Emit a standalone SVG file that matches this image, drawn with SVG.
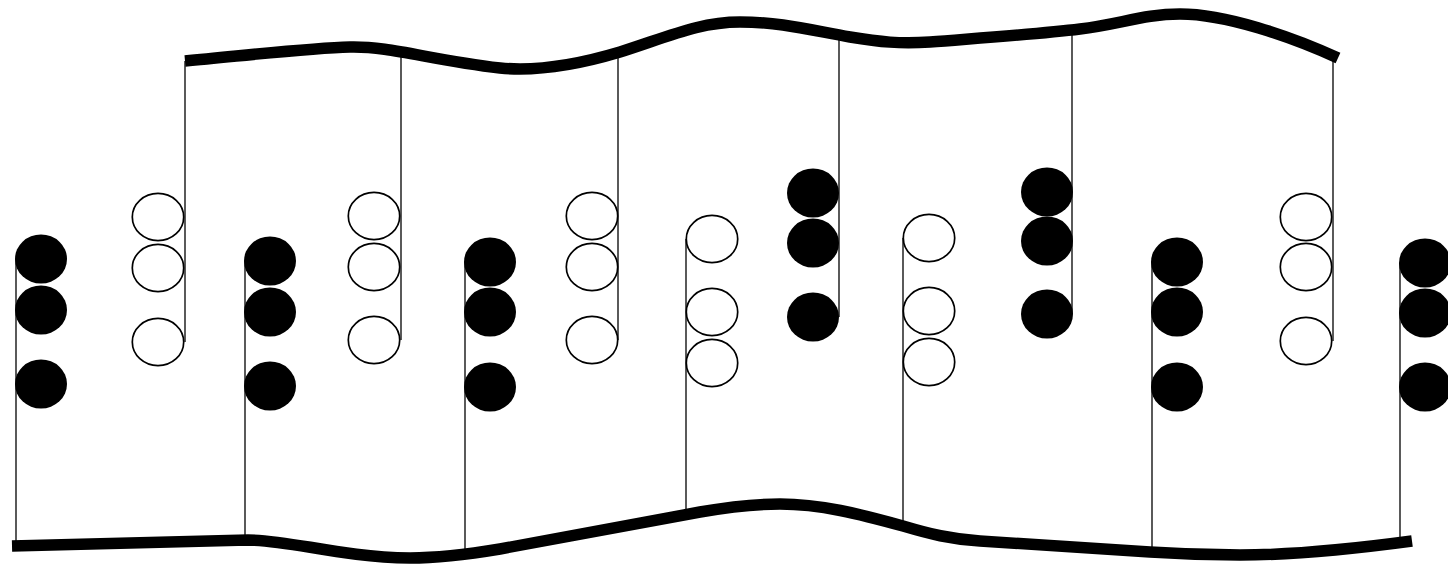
<svg xmlns="http://www.w3.org/2000/svg" width="1448" height="567" viewBox="0 0 1448 567">
<style>
.strand{fill:none;stroke:#000;stroke-width:11.5}
.link{stroke:#000;stroke-width:1.3;fill:none}
.b{fill:#000}
.o{fill:#fff;stroke:#000;stroke-width:1.7}
</style>
<defs>
<ellipse id="bk" class="b" cx="0" cy="0" rx="26" ry="24.5"/>
<ellipse id="op" class="o" cx="0" cy="0" rx="25.7" ry="23.6"/>
</defs>
<rect width="1448" height="567" fill="#fff"/>
<g id="strands">
<path id="top-strand" class="strand" d="M185,61 C250,55 310,48 350,47 C390,46 430,60 500,68 C540,72 580,64 620,52 C670,36 700,22 740,22 C780,22 810,30 850,37 C880,42 900,44 930,42 C980,38 1040,34 1080,29 C1120,24 1145,14 1180,14 C1225,14 1290,36 1338,58"/>
<path id="bottom-strand" class="strand" d="M12,546 L248,540 C290,540 340,557 410,558 C440,558 470,554 500,549 L700,512 C740,505 760,504 780,504 C820,504 860,514 903,526 C930,534 950,539 980,541 L1150,552 C1180,554 1210,555 1240,555 C1300,555 1360,548 1412,541"/>
</g>
<g id="connectors">
<line class="link" x1="16" y1="259" x2="16" y2="546"/>
<line class="link" x1="185" y1="61" x2="185" y2="342"/>
<line class="link" x1="245" y1="261" x2="245" y2="540"/>
<line class="link" x1="401" y1="52" x2="401" y2="340"/>
<line class="link" x1="465" y1="262" x2="465" y2="552"/>
<line class="link" x1="618" y1="53" x2="618" y2="340"/>
<line class="link" x1="686" y1="239" x2="686" y2="515"/>
<line class="link" x1="839" y1="37" x2="839" y2="317"/>
<line class="link" x1="903" y1="238" x2="903" y2="526"/>
<line class="link" x1="1072" y1="31" x2="1072" y2="314"/>
<line class="link" x1="1152" y1="262" x2="1152" y2="552"/>
<line class="link" x1="1333" y1="57" x2="1333" y2="341"/>
<line class="link" x1="1400" y1="263" x2="1400" y2="542"/>
</g>
<g id="col1"><use href="#bk" x="41" y="259"/><use href="#bk" x="41" y="310"/><use href="#bk" x="41" y="384"/></g>
<g id="col2"><use href="#op" x="158" y="217"/><use href="#op" x="158" y="268"/><use href="#op" x="158" y="342"/></g>
<g id="col3"><use href="#bk" x="270" y="261"/><use href="#bk" x="270" y="312"/><use href="#bk" x="270" y="386"/></g>
<g id="col4"><use href="#op" x="374" y="216"/><use href="#op" x="374" y="267"/><use href="#op" x="374" y="340"/></g>
<g id="col5"><use href="#bk" x="490" y="262"/><use href="#bk" x="490" y="312"/><use href="#bk" x="490" y="387"/></g>
<g id="col6"><use href="#op" x="592" y="216"/><use href="#op" x="592" y="267"/><use href="#op" x="592" y="340"/></g>
<g id="col7"><use href="#op" x="712" y="239"/><use href="#op" x="712" y="312"/><use href="#op" x="712" y="363"/></g>
<g id="col8"><use href="#bk" x="813" y="193"/><use href="#bk" x="813" y="243"/><use href="#bk" x="813" y="317"/></g>
<g id="col9"><use href="#op" x="929" y="238"/><use href="#op" x="929" y="311"/><use href="#op" x="929" y="362"/></g>
<g id="col10"><use href="#bk" x="1047" y="192"/><use href="#bk" x="1047" y="241"/><use href="#bk" x="1047" y="314"/></g>
<g id="col11"><use href="#bk" x="1177" y="262"/><use href="#bk" x="1177" y="312"/><use href="#bk" x="1177" y="387"/></g>
<g id="col12"><use href="#op" x="1306" y="217"/><use href="#op" x="1306" y="267"/><use href="#op" x="1306" y="341"/></g>
<g id="col13"><use href="#bk" x="1425" y="263"/><use href="#bk" x="1425" y="313"/><use href="#bk" x="1425" y="387"/></g>
</svg>
